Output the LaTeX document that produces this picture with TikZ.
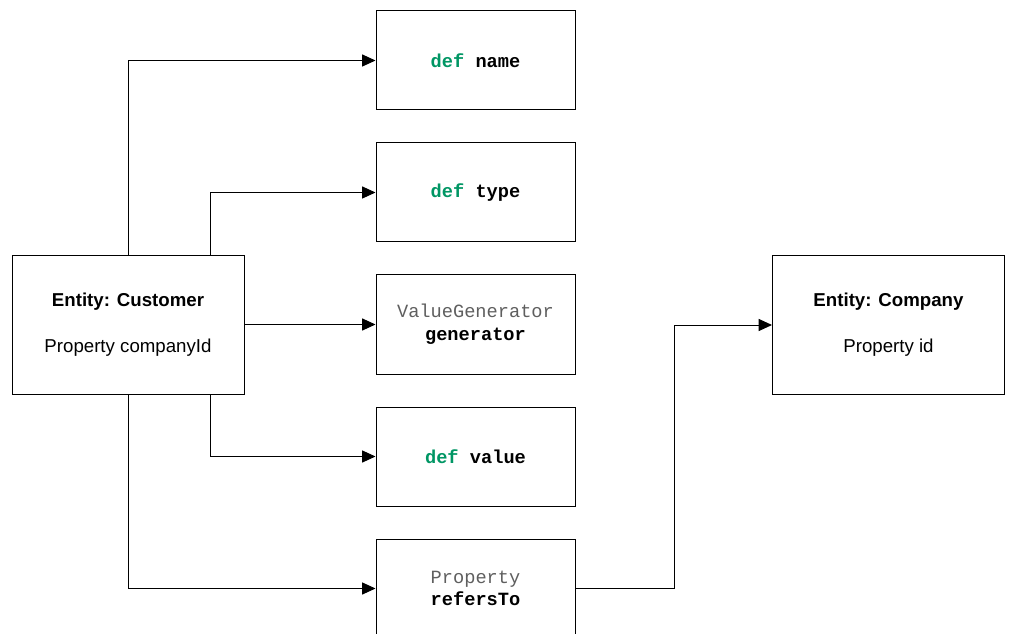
\documentclass[tikz,border=0pt]{standalone}
\usepackage{fontspec}
\setmainfont{Liberation Sans}
\setmonofont{Liberation Mono}
\usepackage{xcolor}
\usepackage{tikz}
\usetikzlibrary{arrows.meta}
\definecolor{kwcol}{RGB}{0,150,100}
\definecolor{typecol}{RGB}{95,95,95}

\newcommand{\kw}[1]{{\color{kwcol}\textbf{#1}}}
\newcommand{\tp}[1]{{\color{typecol}#1}}

\begin{document}
\begin{tikzpicture}[x=0.75pt, y=-0.75pt,
    every node/.style={font=\fontsize{14}{17}\selectfont},
    entity/.style={draw, line width=0.75pt, minimum width=174pt,
      minimum height=103.5pt, inner sep=0pt, align=center},
    member/.style={draw, line width=0.75pt, minimum width=149.25pt,
      minimum height=74.25pt, inner sep=0pt, align=center,
      font=\fontsize{14}{17}\selectfont\ttfamily},
    link/.style={line width=0.75pt, -{Triangle[length=10pt,width=9pt]}}]

    \useasboundingbox (0,0) rectangle (1009,634);

    %% entities
    \node[entity] (cust) at (128,325)
      {\textbf{Entity: Customer}\\[17.5pt]Property companyId};
    \node[entity] (comp) at (888.5,325)
      {\textbf{Entity: Company}\\[17.5pt]Property id};

    %% members of the customer entity
    \node[member] (name) at (475.5,60.5) {\kw{def} \textbf{name}};
    \node[member] (type) at (475.5,192.5) {\kw{def} \textbf{type}};
    \node[member] (gen)  at (475.5,324.5)
      {\tp{ValueGenerator}\\\textbf{generator}};
    \node[member] (val)  at (475.5,456.5) {\kw{def} \textbf{value}};
    \node[member] (ref)  at (475.5,588.5)
      {\tp{Property}\\\textbf{refersTo}};

    %% links
    \draw[link] (cust.north) |- (name.west);
    \draw[link] (cust.north -| 210,0) |- (type.west);
    \draw[link] (cust.east |- gen.west) -- (gen.west);
    \draw[link] (cust.south -| 210,0) |- (val.west);
    \draw[link] (cust.south) |- (ref.west);
    \draw[link] (ref.east) -- (ref.east -| 674,0) |- (comp.west);

\end{tikzpicture}
\end{document}
